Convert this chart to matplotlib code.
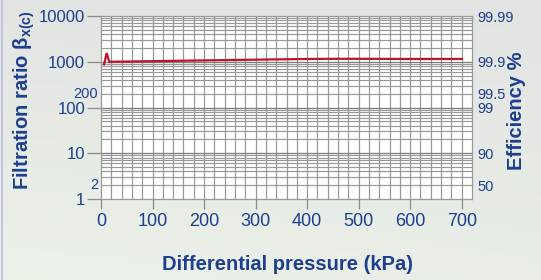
import numpy as np
import matplotlib
matplotlib.use("Agg")
import matplotlib.pyplot as plt
from matplotlib import transforms
from matplotlib.colors import LinearSegmentedColormap

# ---- data ----
pressure = [6, 11, 16, 50, 100, 150, 200, 250, 300, 350, 400, 450, 500, 550, 600, 650, 700]
beta = [880, 1550, 1000, 1010, 1030, 1050, 1070, 1090, 1110, 1130, 1150, 1160, 1160, 1155, 1150, 1150, 1150]

x_ticks = [0, 100, 200, 300, 400, 500, 600, 700]
left_major = [1, 10, 100, 1000, 10000]
left_major_labels = ["1", "10", "100", "1000", "10000"]
left_extra = [200, 2]
left_extra_labels = ["200", "2"]
right_ticks = [10000, 1000, 200, 100, 10, 2]
right_labels = ["99.99", "99.9", "99.5", "99", "90", "50"]

BLUE = "#1d3f8e"
RED = "#c0122a"
GRID = "#999999"
GRID_MAJ = "#7f7f7f"

plt.rcParams["font.family"] = ["Liberation Sans", "DejaVu Sans"]
plt.rcParams["mathtext.fontset"] = "custom"
plt.rcParams["mathtext.rm"] = "Liberation Sans:bold"
plt.rcParams["mathtext.it"] = "Liberation Sans:bold"
plt.rcParams["mathtext.bf"] = "Liberation Sans:bold"

W, H = 541, 280
fig = plt.figure(figsize=(W / 100, H / 100), dpi=100)

# background gradient
bg = fig.add_axes([0, 0, 1, 1], zorder=-10)
yy, xx = np.mgrid[0:1:60j, 0:1:120j]
t = np.clip(0.6 * yy + 0.25 * (1 - xx) * yy, 0, 1)
cmap = LinearSegmentedColormap.from_list("bg", ["#e2e4e2", "#e8ece6", "#eef4ea"])
bg.imshow(t, cmap=cmap, aspect="auto", extent=[0, 1, 0, 1], origin="upper", vmin=0, vmax=1)
bg.plot([0.004, 0.004], [0, 1], color="#b9bde0", lw=1.2)
bg.set_xlim(0, 1); bg.set_ylim(0, 1)
bg.axis("off")

left, right = 101 / W, 472 / W
bottom, top = 1 - 199 / H, 1 - 16 / H
ax = fig.add_axes([left, bottom, right - left, top - bottom])
ax.set_facecolor("white")
ax.set_yscale("log")
ax.set_xlim(0, 720)
ax.set_ylim(1, 10000)

# grid
for xv in range(20, 720, 20):
    ax.axvline(xv, color=GRID, lw=0.9, zorder=1)
for d in [1, 10, 100, 1000]:
    for m in range(2, 10):
        ax.axhline(d * m, color=GRID, lw=0.85, zorder=1)
for d in [10, 100, 1000]:
    ax.axhline(d, color=GRID_MAJ, lw=0.95, zorder=1)

ax.plot(pressure, beta, color=RED, lw=1.6, zorder=3, solid_joinstyle="miter")

for s in ax.spines.values():
    s.set_color("#999999")
    s.set_linewidth(0.9)

ax.set_xticks(x_ticks)
ax.set_xticklabels([str(v) for v in x_ticks])
ax.set_yticks(left_major)
ax.set_yticklabels(left_major_labels)
ax.minorticks_off()
ax.tick_params(axis="x", direction="out", length=7, width=0.9, color="#8a8a8a",
               labelsize=13, labelcolor=BLUE, pad=3)
ax.tick_params(axis="y", direction="out", length=10, width=0.9, color="#8a8a8a",
               labelsize=12, labelcolor=BLUE, pad=1.5)

trans = transforms.blended_transform_factory(ax.transAxes, ax.transData)
for v, lab in zip(left_extra, left_extra_labels):
    ax.text(-0.008, v, lab, transform=trans, ha="right", va="center",
            fontsize=10.5, color=BLUE)

ax2 = ax.twinx()
ax2.set_yscale("log")
ax2.set_ylim(1, 10000)
ax2.set_yticks(right_ticks)
ax2.set_yticklabels(right_labels)
ax2.minorticks_off()
ax2.tick_params(axis="y", length=0, labelsize=10.5, labelcolor=BLUE, pad=3.6)
for s in ax2.spines.values():
    s.set_visible(False)

fig.text(287.5 / W, 1 - 264 / H, "Differential pressure (kPa)", fontsize=14.5,
         fontweight="bold", color=BLUE, ha="center", va="center")
fig.text(24 / W, 1 - 100 / H, r"Filtration ratio β$_{\mathrm{x(c)}}$", fontsize=14.5,
         fontweight="bold", color=BLUE, ha="center", va="center", rotation=90)
fig.text(517 / W, 1 - 111 / H, "Efficiency %", fontsize=14.5, fontweight="bold",
         color=BLUE, ha="center", va="center", rotation=90)

fig.savefig("out.png", dpi=100)
